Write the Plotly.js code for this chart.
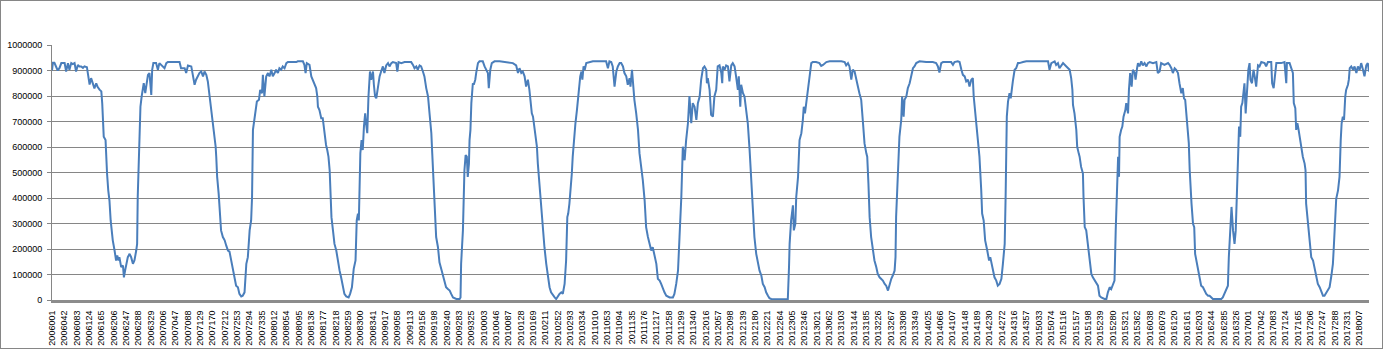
<!DOCTYPE html>
<html>
<head>
<meta charset="utf-8">
<script src="https://cdn.plot.ly/plotly-3.0.1.min.js"></script>
<style>
  html, body { margin: 0; padding: 0; background: #ffffff; }
  #chart { width: 1381px; height: 347px; border: 1px solid #868686; }
</style>
</head>
<body>
<div id="chart"></div>
<script>
// Category labels shown on the x axis (every 41st day code)
const tickLabels = [
  "2006001","2006042","2006083","2006124","2006165","2006206","2006247","2006288","2006329",
  "2007006","2007047","2007088","2007129","2007170","2007212","2007253","2007294","2007335",
  "2008012","2008054","2008095","2008136","2008177","2008218","2008259","2008300","2008341",
  "2009017","2009058","2009113","2009156","2009198","2009240","2009283","2009325",
  "2010003","2010046","2010087","2010128","2010169","2010211","2010252","2010293","2010334",
  "2011010","2011053","2011094","2011135","2011176","2011217","2011258","2011299","2011340",
  "2012016","2012057","2012098","2012139","2012180","2012221","2012264","2012305","2012346",
  "2013021","2013062","2013103","2013144","2013185","2013226","2013267","2013308","2013349",
  "2014025","2014066","2014107","2014148","2014189","2014230","2014272","2014316","2014357",
  "2015033","2015074","2015116","2015157","2015198","2015239","2015280","2015321","2015362",
  "2016038","2016079","2016120","2016161","2016203","2016244","2016285","2016326",
  "2017001","2017042","2017083","2017124","2017165","2017206","2017247","2017288","2017331",
  "2018007"
];
const labelStep = 41;

// Position of each sampled observation in the daily series
const dayIndex = [
  0,3,8,14,19,25,31,36,42,47,53,58,64,69,75,80,86,91,97,103,108,116,119,125,130,136,141,147,152,158,
  164,167,169,172,178,180,183,187,191,195,199,202,208,213,217,221,224,230,236,239,243,247,252,258,263,269,274,280,283,285,
  289,291,294,298,302,305,310,313,319,324,330,333,337,346,352,357,368,374,380,385,396,407,424,429,441,446,452,463,468,474,
  479,485,490,496,502,507,513,518,524,529,533,535,538,544,546,549,554,557,562,568,574,579,585,
  590,601,607,612,618,623,629,634,640,646,651,657,662,665,668,671,677,681,688,692,698,701,706,712,718,723,729,734,740,745,
  751,756,762,767,773,779,784,795,812,817,834,839,843,847,856,862,867,873,878,882,884,889,895,900,904,908,911,915,919,923,
  926,929,934,939,945,950,956,961,967,972,978,986,991,997,1003,1009,1013,1017,1020,1025,1029,1033,1037,1041,1044,1048,1052,1057,1061,1067,
  1070,1074,1078,1083,1089,1094,1100,1105,1111,1117,1122,1128,1133,1144,1148,1152,1161,1172,1194,1200,1205,1211,1216,1222,1227,1233,1238,1244,1250,1255,
  1261,1264,1268,1274,1277,1283,1288,1294,1299,1305,1310,1316,1322,1327,1333,1344,
  1355,1358,1360,1366,1369,1371,1375,1379,1382,1386,1388,1391,1394,1397,1399,1402,1407,1410,1416,1421,1432,1438,1443,1449,1452,1457,1462,1471,1488,1510,
  1521,1532,1543,1549,1554,1560,1565,1571,1576,1582,1587,1591,1595,1599,1604,1607,1612,1615,1621,1626,1632,1637,1643,1648,1654,1659,1665,1671,1676,1682,
  1687,1693,1698,1704,1709,1713,1716,1720,1724,1728,1731,1737,1740,1745,1748,1751,1756,1760,1763,1767,1771,1776,1787,1798,1842,1848,1853,1859,1864,1870,
  1876,1881,1887,1892,1898,1903,1909,1914,1920,1923,1928,1931,1936,1942,1948,1953,1959,1964,1970,1975,1981,1986,1992,1997,2003,2009,2014,2020,2025,2031,
  2036,2042,2053,2064,2069,2075,2081,2086,2092,2097,2103,2108,2114,
  2119,2125,2130,2136,2142,2147,2153,2158,2164,2169,2175,2177,2180,2186,2191,2197,2202,2208,2213,2219,2225,2228,2230,2236,2241,2247,2252,2258,2263,2269,
  2274,2280,2283,2288,2291,2297,2302,2308,2313,2319,2324,2330,2335,2341,2346,2352,2358,2363,2369,2374,2380,2385,2391,2396,2419,2441,2446,2450,2452,2457,
  2463,2466,2471,2474,2480,2485,2491,2496,2499,2503,2507,2513,2518,2524,2529,2540,2551,2557,2563,2574,2585,2624,2635,2640,2646,2651,2657,2662,2668,2673,
  2679,2684,2690,2696,2701,2707,2710,2714,2718,2723,2729,2734,2740,2745,2751,2757,2762,2768,2773,2779,2784,2790,2795,2801,2804,2806,2812,2817,2823,2826,
  2831,2834,2840,2845,2851,2856,2862,2867,2873,
  2884,2906,2928,2939,2945,2950,2956,2962,2973,2989,2995,3000,3011,3017,3023,3028,3034,3039,3045,3050,3056,3061,3064,3067,3072,3078,3083,3089,3092,3097,
  3102,3109,3115,3119,3123,3128,3133,3139,3144,3150,3156,3161,3167,3170,3172,3174,3178,3183,3187,3191,3194,3200,3205,3211,3216,3228,3239,3311,3316,3322,
  3333,3338,3344,3349,3355,3361,3372,3377,3383,3388,3392,3394,3399,3405,3408,3413,3416,3421,3427,3429,3433,3438,3444,3449,3455,3460,3466,3471,3477,3482,
  3488,3499,3505,3510,3516,3521,3527,3532,3536,3538,3541,3544,3547,3549,3554,3558,3562,3568,3571,3577,3580,3584,3589,3593,3599,3602,3607,3610,3615,3621,
  3626,3632,3638,3643,
  3649,3660,3671,3676,3682,3687,3698,3710,3715,3721,3726,3732,3737,3743,3748,3754,3759,3763,3767,3771,3776,3779,3782,3785,3788,3793,3797,3800,3804,3809,
  3815,3820,3826,3831,3837,3843,3848,3854,3859,3870,3887,3892,3898,3903,3909,3912,3917,3921,3926,3931,3935,3939,3942,3946,3950,3953,3957,3961,3964,3968,
  3972,3977,3981,3984,3989,3994,3998,4003,4009,4014,4020,4031,4036,4042,4053,4056,4061,4065,4070,4086,4097,4103,4105,4114,4120,4125,4128,4133,4136,4140,
  4144,4147,4153,4158,4164,4167,4169,4175,4181,4186,4192,4197,4203,4208,4214,4219,4225,4230,4236,4241,4247,4253,4258,4261,4266,4269,4275,4280,4284,4287,
  4291,4295,4299,4302,4308,4311,4314,4319,4325,4330,4336,4341,4347,4352,4358,4363,4369,4374,4378
];

// Series values
const volume = [
  900000,930000,930000,915000,900000,910000,929000,929000,929000,896000,929000,903000,929000,925000,929000,896000,922000,916000,916000,910000,916000,913000,890000,845000,870000,845000,830000,850000,835000,825000,
  818000,770000,690000,640000,627000,550000,496000,430000,390000,312000,260000,234000,194000,155000,175000,155000,168000,129000,135000,89000,115000,142000,168000,181000,168000,142000,155000,194000,220000,404000,
  601000,693000,758000,798000,824000,850000,811000,831000,883000,890000,804000,903000,929000,929000,903000,929000,916000,909000,929000,933000,933000,933000,933000,909000,909000,890000,920000,916000,877000,844000,
  864000,877000,890000,896000,877000,896000,883000,857000,798000,745000,693000,688000,667000,601000,562000,483000,417000,365000,273000,247000,234000,214000,194000,
  190000,115000,89000,56000,50000,24000,14000,17000,30000,142000,168000,273000,312000,404000,667000,693000,745000,778000,785000,824000,811000,883000,798000,876000,890000,877000,903000,877000,890000,903000,
  890000,909000,903000,916000,909000,929000,933000,933000,933000,936000,936000,922000,890000,929000,922000,877000,864000,844000,831000,798000,758000,745000,713000,713000,673000,627000,608000,588000,562000,509000,
  404000,325000,273000,220000,194000,155000,115000,89000,56000,24000,14000,10000,24000,50000,122000,155000,312000,339000,312000,575000,627000,588000,680000,732000,693000,654000,798000,896000,864000,896000,
  844000,798000,791000,831000,877000,896000,916000,890000,920000,929000,916000,929000,933000,929000,896000,933000,929000,933000,933000,922000,909000,916000,903000,920000,916000,896000,877000,831000,798000,732000,
  654000,575000,483000,325000,247000,207000,148000,122000,102000,76000,50000,43000,37000,24000,10000,4000,
  4000,10000,142000,273000,404000,509000,568000,562000,483000,535000,627000,667000,772000,811000,850000,844000,864000,890000,929000,936000,936000,916000,903000,890000,831000,903000,929000,936000,936000,933000,
  929000,929000,920000,890000,909000,890000,896000,877000,837000,864000,824000,758000,732000,719000,680000,640000,601000,535000,444000,352000,286000,207000,142000,89000,50000,30000,17000,10000,4000,17000,
  24000,30000,24000,63000,155000,325000,339000,378000,430000,496000,562000,667000,693000,745000,791000,837000,877000,896000,864000,916000,903000,929000,933000,936000,936000,909000,936000,933000,916000,837000,
  896000,916000,929000,929000,916000,890000,877000,844000,870000,837000,903000,857000,785000,732000,667000,575000,522000,470000,391000,286000,247000,220000,194000,207000,168000,142000,83000,76000,63000,43000,
  30000,17000,10000,10000,24000,63000,115000,247000,404000,601000,548000,627000,693000,
  800000,693000,772000,758000,706000,772000,798000,864000,909000,916000,903000,850000,870000,824000,726000,719000,798000,824000,916000,920000,890000,850000,916000,903000,920000,916000,857000,920000,929000,916000,
  877000,824000,877000,758000,844000,811000,798000,745000,693000,588000,483000,365000,247000,181000,148000,115000,96000,63000,50000,30000,17000,7000,4000,3000,3000,3000,3000,129000,220000,312000,
  371000,273000,299000,404000,483000,627000,654000,706000,758000,732000,772000,824000,883000,929000,933000,933000,929000,918000,922000,933000,936000,936000,933000,920000,929000,916000,864000,903000,896000,864000,
  837000,811000,785000,693000,614000,575000,562000,457000,325000,247000,194000,155000,129000,102000,89000,83000,76000,63000,56000,37000,63000,83000,96000,115000,168000,325000,496000,640000,706000,798000,
  719000,785000,798000,831000,850000,877000,909000,916000,929000,
  936000,933000,933000,929000,916000,892000,929000,933000,933000,933000,922000,933000,936000,933000,903000,883000,877000,857000,864000,837000,864000,870000,798000,758000,706000,640000,562000,430000,339000,312000,
  234000,194000,155000,168000,142000,115000,89000,76000,56000,63000,83000,142000,220000,404000,562000,719000,778000,811000,791000,837000,857000,903000,909000,929000,929000,933000,936000,936000,903000,929000,
  936000,922000,929000,909000,922000,929000,916000,909000,903000,870000,824000,765000,732000,667000,601000,575000,562000,522000,496000,404000,286000,273000,207000,168000,102000,89000,76000,63000,56000,17000,
  10000,4000,4000,30000,50000,43000,63000,76000,273000,365000,444000,562000,483000,640000,667000,680000,719000,745000,772000,732000,824000,890000,837000,903000,890000,864000,909000,929000,916000,936000,
  920000,929000,916000,929000,
  933000,929000,933000,890000,896000,929000,922000,929000,922000,909000,890000,909000,903000,890000,850000,811000,831000,791000,785000,719000,654000,614000,509000,417000,378000,299000,286000,181000,155000,115000,
  89000,56000,50000,37000,24000,17000,17000,10000,4000,4000,4000,10000,24000,37000,56000,168000,299000,365000,273000,220000,273000,404000,496000,680000,640000,758000,772000,811000,850000,732000,
  824000,903000,929000,864000,850000,903000,877000,837000,920000,916000,933000,929000,916000,933000,933000,850000,831000,890000,929000,929000,933000,850000,929000,929000,903000,890000,772000,752000,667000,693000,
  667000,640000,601000,562000,535000,509000,378000,312000,220000,168000,155000,129000,89000,63000,50000,37000,17000,17000,30000,43000,50000,96000,142000,207000,325000,397000,430000,483000,627000,693000,
  719000,706000,798000,824000,844000,864000,909000,916000,903000,916000,890000,916000,903000,929000,903000,877000,920000,929000,896000
];

const tickPositions = tickLabels.map((_, i) => i * labelStep);

const trace = {
  x: dayIndex,
  y: volume,
  type: 'scatter',
  mode: 'lines',
  line: { color: '#4a7ebb', width: 2 },
  hoverinfo: 'skip'
};

const layout = {
  width: 1381,
  height: 347,
  margin: { l: 51, r: 13, t: 44, b: 48, pad: 0 },
  paper_bgcolor: '#ffffff',
  plot_bgcolor: '#ffffff',
  showlegend: false,
  font: { family: 'Liberation Sans, Arial, sans-serif', size: 9, color: '#000000' },
  xaxis: {
    range: [0, dayIndex[dayIndex.length - 1]],
    tickmode: 'array',
    tickvals: tickPositions,
    ticktext: tickLabels,
    tickangle: -90,
    showgrid: false,
    zeroline: false,
    showline: true,
    linecolor: '#8c8c8c',
    linewidth: 3,
    ticks: '',
    ticklabelstandoff: 4,
    tickfont: { size: 9, color: '#000000' }
  },
  yaxis: {
    range: [0, 1000000],
    dtick: 100000,
    tick0: 0,
    tickformat: 'd',
    showgrid: true,
    gridcolor: '#868686',
    gridwidth: 1,
    zeroline: false,
    showline: true,
    linecolor: '#868686',
    linewidth: 1,
    ticks: 'outside',
    ticklen: 4,
    tickcolor: '#868686',
    ticklabelstandoff: 3,
    tickfont: { size: 9, color: '#000000' }
  }
};

Plotly.newPlot('chart', [trace], layout, { staticPlot: true, displayModeBar: false });
</script>
</body>
</html>
